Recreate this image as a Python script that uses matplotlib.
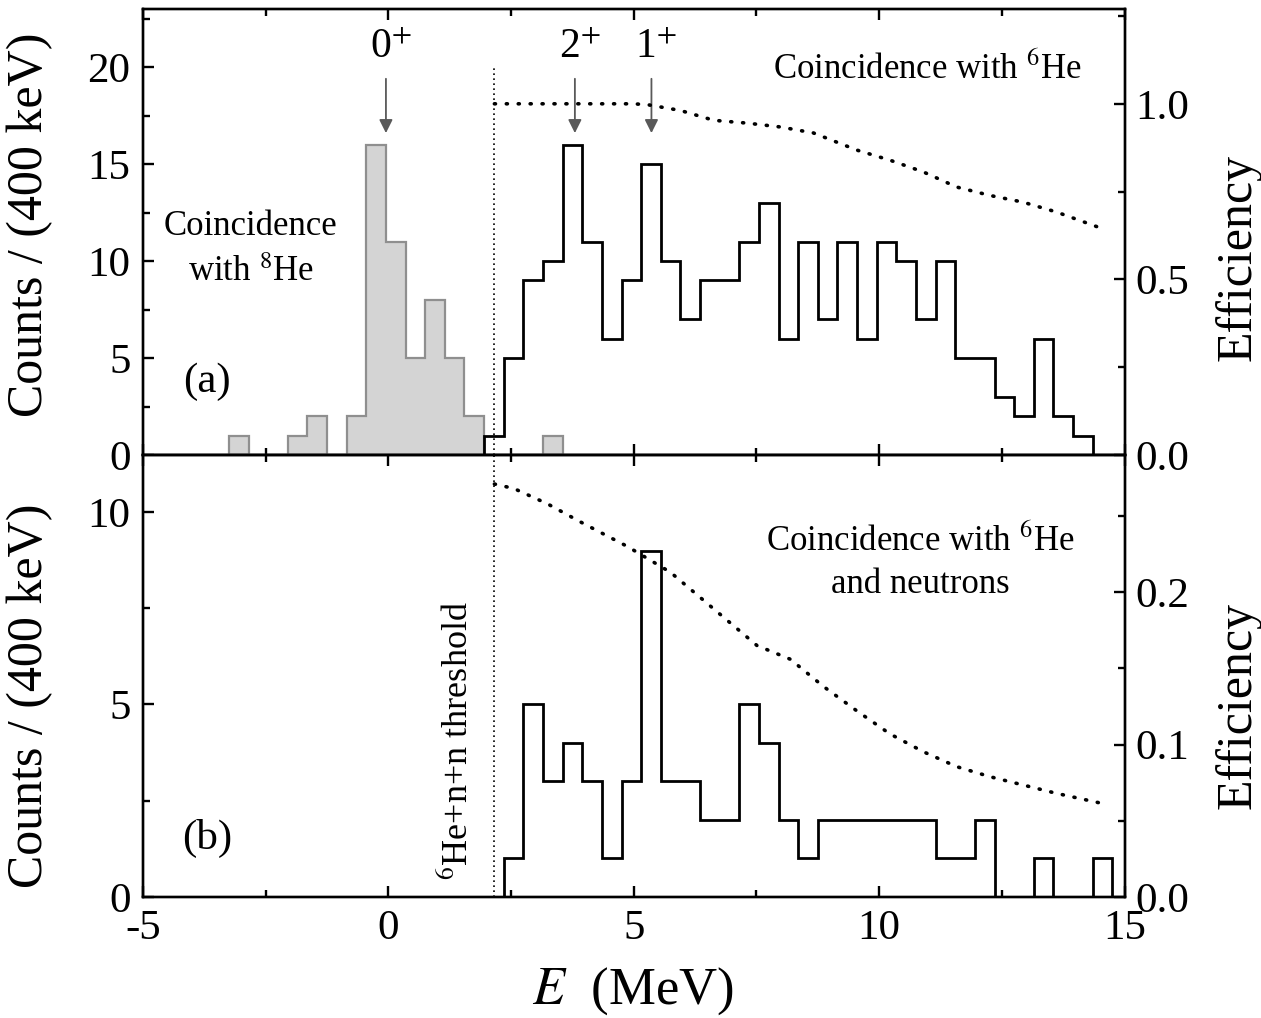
import numpy as np
import matplotlib
matplotlib.use("Agg")
import matplotlib.pyplot as plt
from matplotlib.ticker import MultipleLocator, FormatStrFormatter

plt.rcParams['font.family'] = ['Liberation Serif', 'DejaVu Serif']
plt.rcParams['mathtext.fontset'] = 'stix'
plt.rcParams['axes.unicode_minus'] = False

# ---------------- data ----------------
bin_width = 0.4  # MeV (400 keV)

# (a) coincidence with 8He (grey)
he8_start = -3.25
he8_counts = [1, 0, 0, 1, 2, 0, 2, 16, 11, 5, 8, 5, 2, 0, 0, 0, 1]

# (a) coincidence with 6He (black)
he6_start = 1.95
he6_counts = [1, 5, 9, 10, 16, 11, 6, 9, 15, 10, 7, 9, 9, 11, 13, 6,
              11, 7, 11, 6, 11, 10, 7, 10, 5, 5, 3, 2, 6, 2, 1]

# (b) coincidence with 6He and neutrons
he6n_start = 2.35
he6n_counts = [1, 5, 3, 4, 3, 1, 3, 9, 3, 3, 2, 2, 5, 4, 2, 1,
               2, 2, 2, 2, 2, 2, 1, 1, 2, 0, 0, 1, 0, 0, 1]

# efficiency curves
eff_a_E = [2.16, 3.0, 4.0, 5.0, 5.3, 5.95, 6.63, 7.31, 7.99, 8.66, 9.55,
           10.23, 10.9, 11.58, 12.26, 12.93, 13.61, 14.46]
eff_a = [1.0, 1.0, 1.0, 1.0, 0.997, 0.981, 0.953, 0.945, 0.934, 0.917, 0.868,
         0.839, 0.806, 0.763, 0.739, 0.720, 0.692, 0.649]

eff_b_E = [2.16, 2.56, 3.24, 3.92, 4.87, 5.75, 6.63, 7.51, 8.19, 8.87, 9.55,
           10.22, 10.9, 11.58, 12.26, 12.93, 13.61, 14.47]
eff_b = [0.271, 0.268, 0.258, 0.246, 0.230, 0.213, 0.189, 0.165, 0.156, 0.138,
         0.122, 0.107, 0.0953, 0.0855, 0.0789, 0.0735, 0.068, 0.0619]

threshold_E = 2.16
states = ['0$^{+}$', '2$^{+}$', '1$^{+}$']
state_E = [-0.05, 3.8, 5.36]


def edges(start, counts):
    return start + bin_width * np.arange(len(counts) + 1)


# ---------------- figure ----------------
fig = plt.figure(figsize=(12.61, 10.18), dpi=100)
ax1 = fig.add_axes([0.1134, 0.5530, 0.7784, 0.4382])
ax2 = fig.add_axes([0.1134, 0.1189, 0.7784, 0.4341])
ax1r = ax1.twinx()
ax2r = ax2.twinx()

lw_sp = 1.7
tick_fs = 31
for a in (ax1, ax2, ax1r, ax2r):
    for s in a.spines.values():
        s.set_linewidth(lw_sp)
    a.tick_params(which='both', direction='in', width=lw_sp, labelsize=tick_fs)
    a.tick_params(which='major', length=8)
    a.tick_params(which='minor', length=5)

for a in (ax1, ax2):
    a.set_xlim(-5, 15)
    a.xaxis.set_major_locator(MultipleLocator(5))
    a.xaxis.set_minor_locator(MultipleLocator(2.5))
    a.tick_params(which='both', top=True, right=False, pad=9)
    a.yaxis.set_major_locator(MultipleLocator(5))
    a.yaxis.set_minor_locator(MultipleLocator(2.5))

ax1.tick_params(labelbottom=False)
ax1.set_ylim(0, 23.0)
ax2.set_ylim(0, 11.48)

ax1r.set_ylim(0, 1.27)
ax1r.yaxis.set_major_locator(MultipleLocator(0.5))
ax1r.yaxis.set_minor_locator(MultipleLocator(0.25))
ax1r.yaxis.set_major_formatter(FormatStrFormatter('%.1f'))
ax2r.set_ylim(0, 0.29)
ax2r.yaxis.set_major_locator(MultipleLocator(0.1))
ax2r.yaxis.set_minor_locator(MultipleLocator(0.05))
ax2r.yaxis.set_major_formatter(FormatStrFormatter('%.1f'))
for a in (ax1r, ax2r):
    a.tick_params(which='both', pad=8)

# histograms
e8 = edges(he8_start, he8_counts)
ax1.stairs(he8_counts, e8, fill=True, color='#d4d4d4', zorder=2)
ax1.stairs(he8_counts, e8, color='#8f8f8f', lw=1.6, zorder=3)
ax1.stairs(he6_counts, edges(he6_start, he6_counts), color='black', lw=2.0, zorder=4)
ax2.stairs(he6n_counts, edges(he6n_start, he6n_counts), color='black', lw=2.0, zorder=4)

# efficiency
dot = (0, (0.3, 3.0))
for a, ex, ey in ((ax1r, eff_a_E, eff_a), (ax2r, eff_b_E, eff_b)):
    ln, = a.plot(ex, ey, color='black', lw=2.6, linestyle=dot)
    ln.set_dash_capstyle('round')

# threshold line
ax1.axvline(threshold_E, ymin=0, ymax=0.87, color='black', lw=1.2, linestyle=(0, (1, 2)))
ax2.axvline(threshold_E, color='black', lw=1.2, linestyle=(0, (1, 2)))

# state arrows
for lab, e in zip(states, state_E):
    ax1.annotate('', xy=(e, 16.6), xytext=(e, 19.4),
                 arrowprops=dict(arrowstyle='-|>', color='0.35', lw=1.3,
                                 mutation_scale=20, shrinkA=0, shrinkB=0),
                 zorder=5)
    ax1.text(e + 0.1, 21.0, lab, ha='center', va='center', fontsize=30)

# annotations
ax1.text(10.98, 19.85, 'Coincidence with $^{6}$He', ha='center', va='center', fontsize=25)
ax1.text(-2.8, 10.6, 'Coincidence\nwith $^{8}$He', ha='center', va='center',
         fontsize=25, linespacing=1.55)
ax1.text(-3.69, 3.76, '(a)', ha='center', va='center', fontsize=31)
ax2.text(-3.69, 1.53, '(b)', ha='center', va='center', fontsize=31)
ax2.text(10.83, 8.68, 'Coincidence with $^{6}$He\nand neutrons', ha='center',
         va='center', fontsize=25, linespacing=1.35)
ax2.text(1.41, 0.43, '$^{6}$He+n+n threshold', rotation=90, ha='center',
         va='bottom', fontsize=26)

# axis labels
for a, yc in ((ax1, 0.516), (ax2, 0.455)):
    a.set_ylabel('Counts / (400 keV)', fontsize=36)
    a.yaxis.set_label_coords(-0.092, yc)
for a, yc in ((ax1r, 0.444), (ax2r, 0.434)):
    a.set_ylabel('Efficiency', fontsize=36, rotation=90)
    a.yaxis.set_label_coords(1.092, yc)

ax2.set_xlabel('$E$  (MeV)', fontsize=38)
ax2.xaxis.set_label_coords(0.499, -0.154)

fig.savefig('out.png', dpi=100)
